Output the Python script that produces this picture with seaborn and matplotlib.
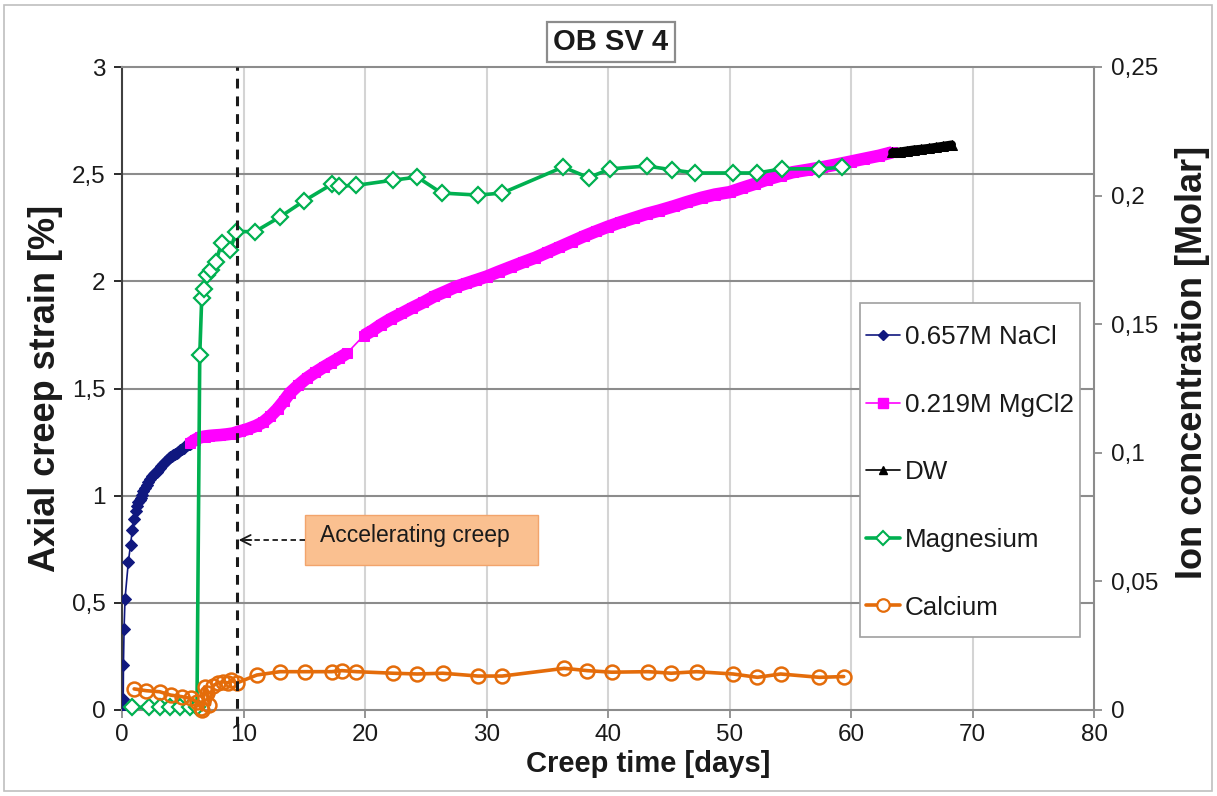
import numpy as np
import pandas as pd
import seaborn as sns
import matplotlib
matplotlib.use("Agg")
import matplotlib.pyplot as plt
from matplotlib.lines import Line2D
from matplotlib.patches import Rectangle

# ---- data -------------------------------------------------------------
nacl_days = [0.0, 0.08, 0.10, 0.12, 0.17, 0.25, 0.52, 0.70, 0.85, 0.99, 1.15, 1.25,
             1.35, 1.45, 1.54, 1.65, 1.75, 1.90, 2.03, 2.15, 2.30, 2.45, 2.60, 2.75,
             2.85, 3.00, 3.10, 3.25, 3.40, 3.55, 3.70, 3.85, 3.95, 4.10, 4.20, 4.35,
             4.50, 4.65, 4.80, 4.95, 5.10, 5.20, 5.35, 5.50, 5.60, 5.70]
nacl_strain = [0.0, 0.02, 0.05, 0.21, 0.38, 0.52, 0.69, 0.77, 0.84, 0.89, 0.93, 0.95,
               0.97, 0.98, 0.99, 1.005, 1.02, 1.035, 1.05, 1.065, 1.08, 1.09, 1.10, 1.105,
               1.11, 1.12, 1.13, 1.14, 1.15, 1.155, 1.165, 1.175, 1.18, 1.185, 1.19, 1.195,
               1.20, 1.205, 1.215, 1.218, 1.222, 1.23, 1.235, 1.24, 1.242, 1.245]

mgcl2_days = [5.6, 6.0, 6.4, 6.8, 7.2, 7.6, 8.1, 8.6, 9.1, 9.7, 10.3, 11.0, 11.6, 12.2,
              12.8, 13.3, 13.8, 14.5, 15.2, 15.9, 16.6, 17.2, 17.9, 18.5,
              19.9, 20.6, 21.3, 22.1, 23.0, 23.9, 24.8, 25.7, 26.6, 27.5, 28.3, 29.1,
              30.0, 31.0, 32.0, 33.0, 34.0, 35.0, 36.0, 37.0, 38.0, 39.0, 40.0, 41.0,
              42.1, 43.2, 44.2, 45.4, 46.5, 47.7, 48.8, 50.0, 51.0, 52.1, 53.1, 54.2,
              55.2, 56.4, 57.6, 58.8, 60.0, 61.1, 62.3, 63.4]
mgcl2_strain = [1.245, 1.26, 1.272, 1.276, 1.279, 1.281, 1.283, 1.286, 1.29, 1.30, 1.31,
                1.325, 1.342, 1.37, 1.405, 1.44, 1.478, 1.515, 1.548, 1.575, 1.60, 1.62,
                1.643, 1.664,
                1.747, 1.77, 1.797, 1.824, 1.85, 1.877, 1.902, 1.93, 1.952, 1.975, 1.99,
                2.005, 2.022, 2.045, 2.067, 2.089, 2.11, 2.135, 2.16, 2.185, 2.21, 2.233,
                2.255, 2.275, 2.295, 2.315, 2.33, 2.35, 2.37, 2.39, 2.405, 2.416, 2.435,
                2.455, 2.475, 2.493, 2.509, 2.52, 2.532, 2.545, 2.559, 2.572, 2.586, 2.602]
mgcl2_gap_after = 18.5  # logging gap between 18.5 and 19.9 days

dw_days = [63.4, 64.0, 64.6, 65.2, 65.8, 66.4, 67.0, 67.6, 68.3]
dw_strain = [2.602, 2.605, 2.61, 2.615, 2.618, 2.622, 2.627, 2.632, 2.638]

mg_days = [0.8, 2.2, 3.1, 3.95, 4.8, 5.6, 6.17, 6.4, 6.56, 6.75, 6.97, 7.3, 7.7, 8.2,
           8.9, 9.4, 10.95, 13.0, 15.0, 17.3, 17.9, 19.3, 22.3, 24.3, 26.3, 29.3, 31.3,
           36.3, 38.4, 40.2, 43.2, 45.3, 47.2, 50.3, 52.3, 54.3, 57.4, 59.3]
mg_conc = [0.001, 0.001, 0.001, 0.001, 0.001, 0.001, 0.001, 0.138, 0.160, 0.1637,
           0.169, 0.171, 0.174, 0.1815, 0.1788, 0.186, 0.186, 0.1917, 0.198, 0.2045,
           0.2037, 0.204, 0.206, 0.2072, 0.201, 0.2002, 0.201, 0.2111, 0.207, 0.2104,
           0.2115, 0.210, 0.2088, 0.2088, 0.2088, 0.2104, 0.2104, 0.211]

ca_days = [1.0, 2.0, 3.1, 4.0, 4.9, 5.7, 6.2, 6.5, 6.6, 6.8, 7.0, 7.2, 7.5, 7.9, 8.3,
           8.7, 9.0, 9.44, 11.1, 13.0, 15.06, 17.26, 18.1, 19.3, 22.3, 24.3, 26.4, 29.3,
           31.3, 36.4, 38.3, 40.3, 43.3, 45.2, 47.3, 50.3, 52.3, 54.2, 57.4, 59.4]
ca_conc = [0.0082, 0.0075, 0.0071, 0.0058, 0.0052, 0.0045, 0.003, 0.0008, 0.0, 0.009,
           0.0065, 0.002, 0.0095, 0.0105, 0.011, 0.0105, 0.0115, 0.0105, 0.0136, 0.0149,
           0.0149, 0.0149, 0.0153, 0.0149, 0.0143, 0.014, 0.0143, 0.0132, 0.0132, 0.0162,
           0.0153, 0.0147, 0.0149, 0.0143, 0.0149, 0.014, 0.0127, 0.014, 0.0127, 0.013]

accel_day = 9.45

x_ticks = [0, 10, 20, 30, 40, 50, 60, 70, 80]
strain_ticks = [0, 0.5, 1, 1.5, 2, 2.5, 3]
strain_labels = ["0", "0,5", "1", "1,5", "2", "2,5", "3"]
conc_ticks = [0, 0.05, 0.1, 0.15, 0.2, 0.25]
conc_labels = ["0", "0,05", "0,1", "0,15", "0,2", "0,25"]

series_labels = ["0.657M NaCl", "0.219M MgCl2", "DW", "Magnesium", "Calcium"]

# ---- style ------------------------------------------------------------
sns.set_theme(style="white")
plt.rcParams["font.family"] = ["Liberation Sans", "DejaVu Sans"]

C_NACL = "#10187F"
C_MGCL2 = "#FF00FF"
C_DW = "#000000"
C_MG = "#00B050"
C_CA = "#E46C0A"
C_TXT = "#1a1a1a"

fig = plt.figure(figsize=(12.17, 7.96), dpi=100)
ax = fig.add_axes([122 / 1217, 1 - 710 / 796, 972 / 1217, 643 / 796])
ax2 = ax.twinx()

ax.set_xlim(0, 80)
ax.set_ylim(0, 3)
ax2.set_ylim(0, 0.25)

ax.set_xticks(x_ticks)
ax.set_yticks(strain_ticks)
ax.set_yticklabels(strain_labels)
ax2.set_yticks(conc_ticks)
ax2.set_yticklabels(conc_labels)
ax.grid(False)
ax2.grid(False)
# dark horizontal grid lines, light vertical ones
for xv in x_ticks[1:-1]:
    ax.axvline(xv, color="#D4D4D4", lw=1.5, zorder=0.5)
for yv in strain_ticks[1:-1]:
    ax.axhline(yv, color="#8C8C8C", lw=1.5, zorder=0.6)

for s in ["top", "right", "bottom"]:
    ax.spines[s].set_color("#8C8C8C")
    ax.spines[s].set_linewidth(1.5)
ax.spines["left"].set_color("#404040")
ax.spines["left"].set_linewidth(1.5)
for s in ax2.spines.values():
    s.set_visible(False)

tick_kw = dict(labelsize=17.5, colors=C_TXT, length=6, width=1.3, direction="out")
ax.tick_params(axis="x", bottom=True, pad=4, **tick_kw)
ax.tick_params(axis="y", left=True, pad=6, **tick_kw)
ax2.tick_params(axis="y", right=True, pad=6, **tick_kw)
ax.tick_params(axis="x", color="#8C8C8C")
ax2.tick_params(axis="y", color="#8C8C8C")

# ---- series -----------------------------------------------------------
nacl = pd.DataFrame({"day": nacl_days, "v": nacl_strain})
sns.lineplot(data=nacl, x="day", y="v", ax=ax, sort=False, estimator=None,
             color=C_NACL, lw=1.2, marker="D", markersize=6,
             markeredgecolor=C_NACL, zorder=3)

mgcl2 = pd.DataFrame({"day": mgcl2_days, "v": mgcl2_strain})
sns.lineplot(data=mgcl2, x="day", y="v", ax=ax, sort=False, estimator=None,
             color=C_MGCL2, lw=1.2, zorder=3)
for part in (mgcl2[mgcl2.day <= mgcl2_gap_after], mgcl2[mgcl2.day > mgcl2_gap_after]):
    sns.lineplot(data=part, x="day", y="v", ax=ax, sort=False, estimator=None,
                 color=C_MGCL2, lw=9, solid_capstyle="butt", marker="s",
                 markersize=7.5, markeredgecolor=C_MGCL2, zorder=3)

dw = pd.DataFrame({"day": dw_days, "v": dw_strain})
sns.lineplot(data=dw, x="day", y="v", ax=ax, sort=False, estimator=None,
             color=C_DW, lw=6, marker="^", markersize=7, markeredgecolor=C_DW, zorder=3)

mg = pd.DataFrame({"day": mg_days, "v": mg_conc})
sns.lineplot(data=mg, x="day", y="v", ax=ax2, sort=False, estimator=None,
             color=C_MG, lw=2.6, marker="D", markersize=8.5, markerfacecolor="white",
             markeredgecolor=C_MG, markeredgewidth=1.6, zorder=4, clip_on=False)

ca = pd.DataFrame({"day": ca_days, "v": ca_conc})
sns.lineplot(data=ca, x="day", y="v", ax=ax2, sort=False, estimator=None,
             color=C_CA, lw=2.6, marker="o", markersize=10, markerfacecolor="none",
             markeredgecolor=C_CA, markeredgewidth=1.8, zorder=4, clip_on=False)

ax.set_xlabel("")
ax.set_ylabel("")
ax2.set_ylabel("")

# ---- accelerating creep marker ----------------------------------------
ax2.axvline(accel_day, ymin=-0.025, ymax=1, color=C_TXT, lw=2.2,
            ls=(0, (3.2, 2.6)), clip_on=False, zorder=5)
box_x0, box_x1 = 15.06, 34.2
box_y0, box_y1 = 0.677, 0.91
ax.add_patch(Rectangle((box_x0, box_y0), box_x1 - box_x0, box_y1 - box_y0,
                       facecolor="#FAC090", edgecolor="#F2A46C", lw=1.0, zorder=5))
ax.text(box_x0 + 1.25, 0.815, "Accelerating creep", fontsize=16.5, color=C_TXT,
        va="center", ha="left", zorder=6)
arrow_y = 0.793
ax.plot([box_x0, accel_day + 0.4], [arrow_y, arrow_y], color=C_TXT, lw=1.3,
        ls=(0, (3, 2)), zorder=6)
ax.annotate("", xy=(accel_day + 0.15, arrow_y), xytext=(accel_day + 1.2, arrow_y),
            arrowprops=dict(arrowstyle="->", color=C_TXT, lw=1.3,
                            mutation_scale=18, shrinkA=0, shrinkB=0), zorder=6)

# ---- labels -----------------------------------------------------------
ax.set_xlabel("Creep time [days]", fontsize=21, fontweight="bold", color=C_TXT)
ax.xaxis.set_label_coords(0.541, -0.062)
ax.set_ylabel("Axial creep strain [%]", fontsize=26, fontweight="bold", color=C_TXT)
ax.yaxis.set_label_coords(-0.061, 0.5)
ax2.set_ylabel("Ion concentration [Molar]", fontsize=26, fontweight="bold",
               color=C_TXT)
ax2.yaxis.set_label_coords(1.083, 0.54)

fig.text(611 / 1217, 1 - 42 / 796, "OB SV 4", fontsize=21, fontweight="bold",
         ha="center", va="center", color=C_TXT,
         bbox=dict(boxstyle="square,pad=0.22", facecolor="white",
                   edgecolor="#8C8C8C", lw=1.6))

# ---- legend -----------------------------------------------------------
handles = [
    Line2D([], [], color=C_NACL, lw=1.2, marker="D", markersize=5.5),
    Line2D([], [], color=C_MGCL2, lw=1.2, marker="s", markersize=7),
    Line2D([], [], color=C_DW, lw=1.2, marker="^", markersize=6),
    Line2D([], [], color=C_MG, lw=2.6, marker="D", markersize=7.5,
           markerfacecolor="white", markeredgecolor=C_MG, markeredgewidth=1.5),
    Line2D([], [], color=C_CA, lw=2.6, marker="o", markersize=9,
           markerfacecolor="white", markeredgecolor=C_CA, markeredgewidth=1.6),
]
# legend frame drawn separately so the padding can differ by side
ax2.add_patch(Rectangle((860 / 1217, 1 - 637 / 796), 220 / 1217, 334 / 796,
                        transform=fig.transFigure, facecolor="white",
                        edgecolor="#A0A0A0", lw=1.2, zorder=10, clip_on=False))
leg = ax2.legend(handles, series_labels, loc="upper left",
                 bbox_to_anchor=(866 / 1217, 1 - 325 / 796),
                 bbox_transform=fig.transFigure, fontsize=18.7, frameon=False,
                 labelspacing=1.68, handlelength=1.3, handletextpad=0.2,
                 borderpad=0, borderaxespad=0)
leg.set_zorder(11)
for t in leg.get_texts():
    t.set_color(C_TXT)

# outer chart frame
fig.patches.append(Rectangle((4 / 1217, 5 / 796), 1208 / 1217, 786 / 796,
                             transform=fig.transFigure, fill=False,
                             edgecolor="#BFBFBF", lw=1.2))

fig.savefig("out.png", dpi=100)
